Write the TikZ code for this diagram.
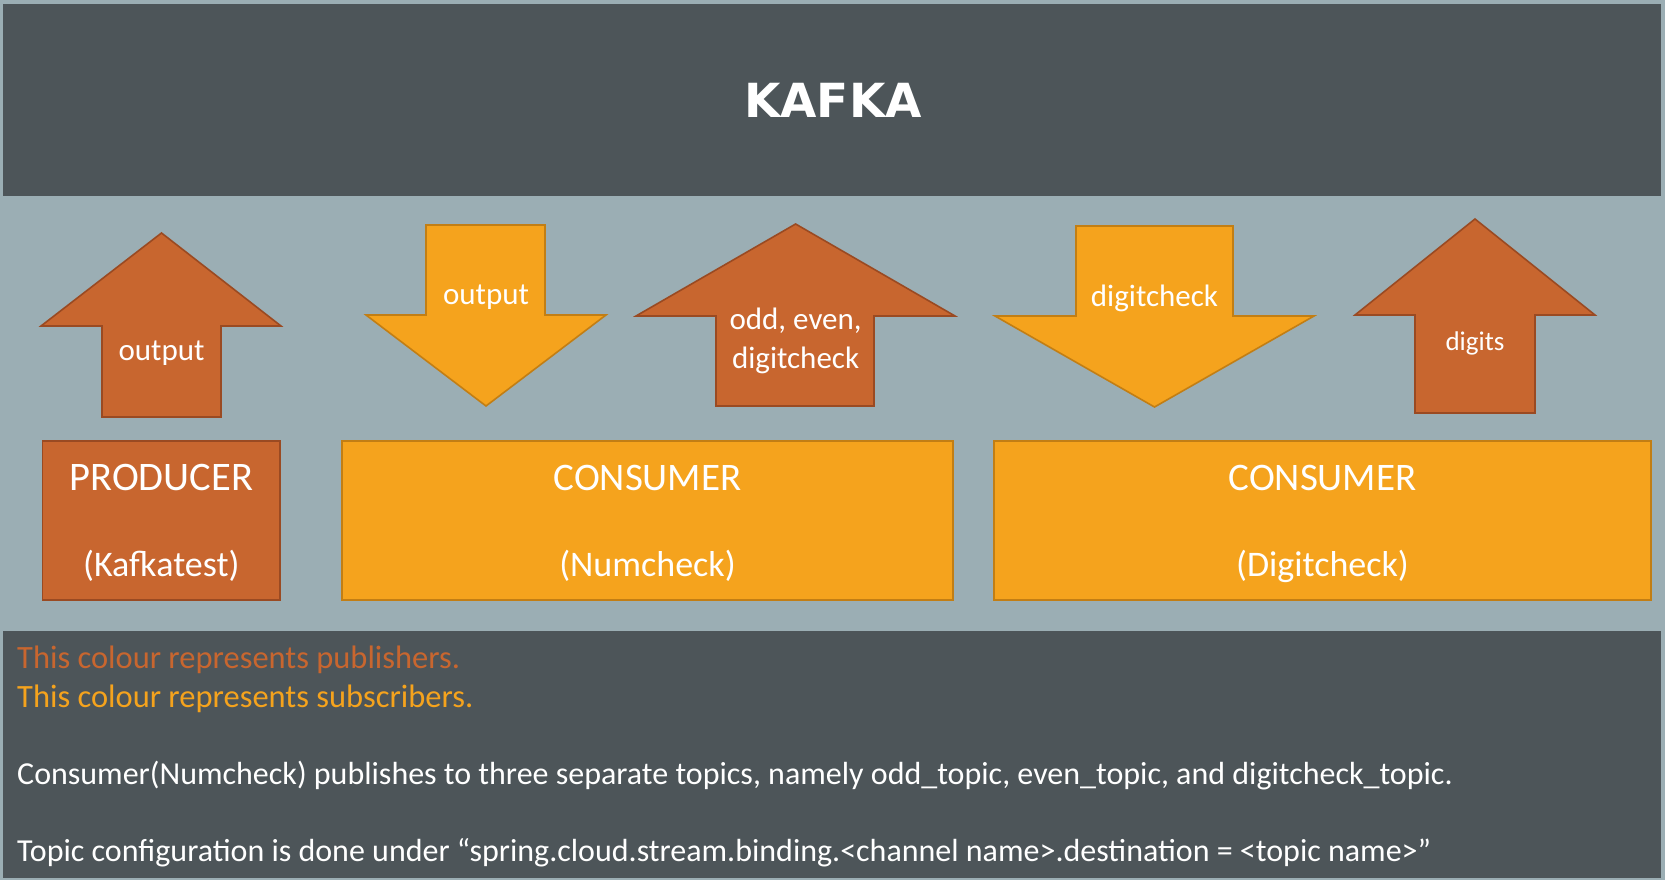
\documentclass[tikz,border=0pt]{standalone}
\usepackage{fontspec}
\setmainfont{Carlito}
\newfontfamily\titlefont{DejaVu Sans}
\definecolor{bgl}{HTML}{9BAEB4}
\definecolor{darkband}{HTML}{4D5559}
\definecolor{rust}{HTML}{C8662F}
\definecolor{rustline}{HTML}{9A4A22}
\definecolor{amber}{HTML}{F5A31D}
\definecolor{amberline}{HTML}{C27E14}
\tikzset{
  pub/.style={fill=rust, draw=rustline, line width=1.6pt, line join=miter},
  sub/.style={fill=amber, draw=amberline, line width=1.6pt, line join=miter},
  lbl/.style={inner sep=0pt, anchor=base, text=white},
  note/.style={inner sep=0pt, anchor=base west},
}
\newcommand{\fs}[1]{\fontsize{#1}{#1}\selectfont}
\begin{document}
\begin{tikzpicture}[x=1pt, y=-1pt]
\useasboundingbox (0,0) rectangle (1665,880);
\fill[bgl] (0,0) rectangle (1665,880);
% bands
\fill[darkband] (3,4) rectangle (1661,196);
\fill[darkband] (3,631) rectangle (1661,878);
\node[lbl] (kafka) at (833,117.3) {\titlefont\bfseries\fs{47}KAFKA};
% arrows
\draw[pub] (161.5,233) -- (281,326) -- (221,326) -- (221,417) -- (102,417) -- (102,326) -- (41,326) -- cycle;
\node[lbl] (a1) at (161.5,360) {\fs{31}output};
\draw[sub] (426,225) -- (545,225) -- (545,315) -- (606,315) -- (486,406) -- (366,315) -- (426,315) -- cycle;
\node[lbl] (a2) at (486,304.3) {\fs{31}output};
\draw[pub] (795.6,224) -- (955,316) -- (874,316) -- (874,406) -- (716,406) -- (716,316) -- (636,316) -- cycle;
\node[lbl] (a3a) at (795.6,329.3) {\fs{31}odd, even,};
\node[lbl] (a3b) at (795.6,368.3) {\fs{31}digitcheck};
\draw[sub] (1076,226) -- (1233,226) -- (1233,316) -- (1314,316) -- (1154.5,407) -- (995,316) -- (1076,316) -- cycle;
\node[lbl] (a4) at (1154.5,306) {\fs{31}digitcheck};
\draw[pub] (1475,219) -- (1595,315) -- (1535,315) -- (1535,413) -- (1415,413) -- (1415,315) -- (1355,315) -- cycle;
\node[lbl] (a5) at (1475,350.7) {\fs{27}digits};
% boxes
\draw[pub] (42.5,441) rectangle (280,600);
\node[lbl] (p1) at (161.3,490) {\fs{40.5}PRODUCER};
\node[lbl] (p2) at (161.3,576) {\fs{36}(Kafkatest)};
\draw[sub] (342,441) rectangle (953,600);
\node[lbl] (c1a) at (647.5,490) {\fs{39}CONSUMER};
\node[lbl] (c1b) at (647.5,576) {\fs{36}(Numcheck)};
\draw[sub] (994,441) rectangle (1651,600);
\node[lbl] (c2a) at (1322.5,490) {\fs{39}CONSUMER};
\node[lbl] (c2b) at (1322.5,576) {\fs{36}(Digitcheck)};
% notes
\node[note, text=rust] (n1) at (17,668.3) {\fs{32.5}This colour represents publishers.};
\node[note, text=amber] (n2) at (17,707.3) {\fs{32.5}This colour represents subscribers.};
\node[note, text=white] (n3) at (17,784) {\fs{32}Consumer(Numcheck) publishes to three separate topics, namely odd\_topic, even\_topic, and digitcheck\_topic.};
\node[note, text=white] (n4) at (17,861.7) {\fs{32}Topic configuration is done under “spring.cloud.stream.binding.<channel name>.destination = <topic name>”};
\end{tikzpicture}
\end{document}
